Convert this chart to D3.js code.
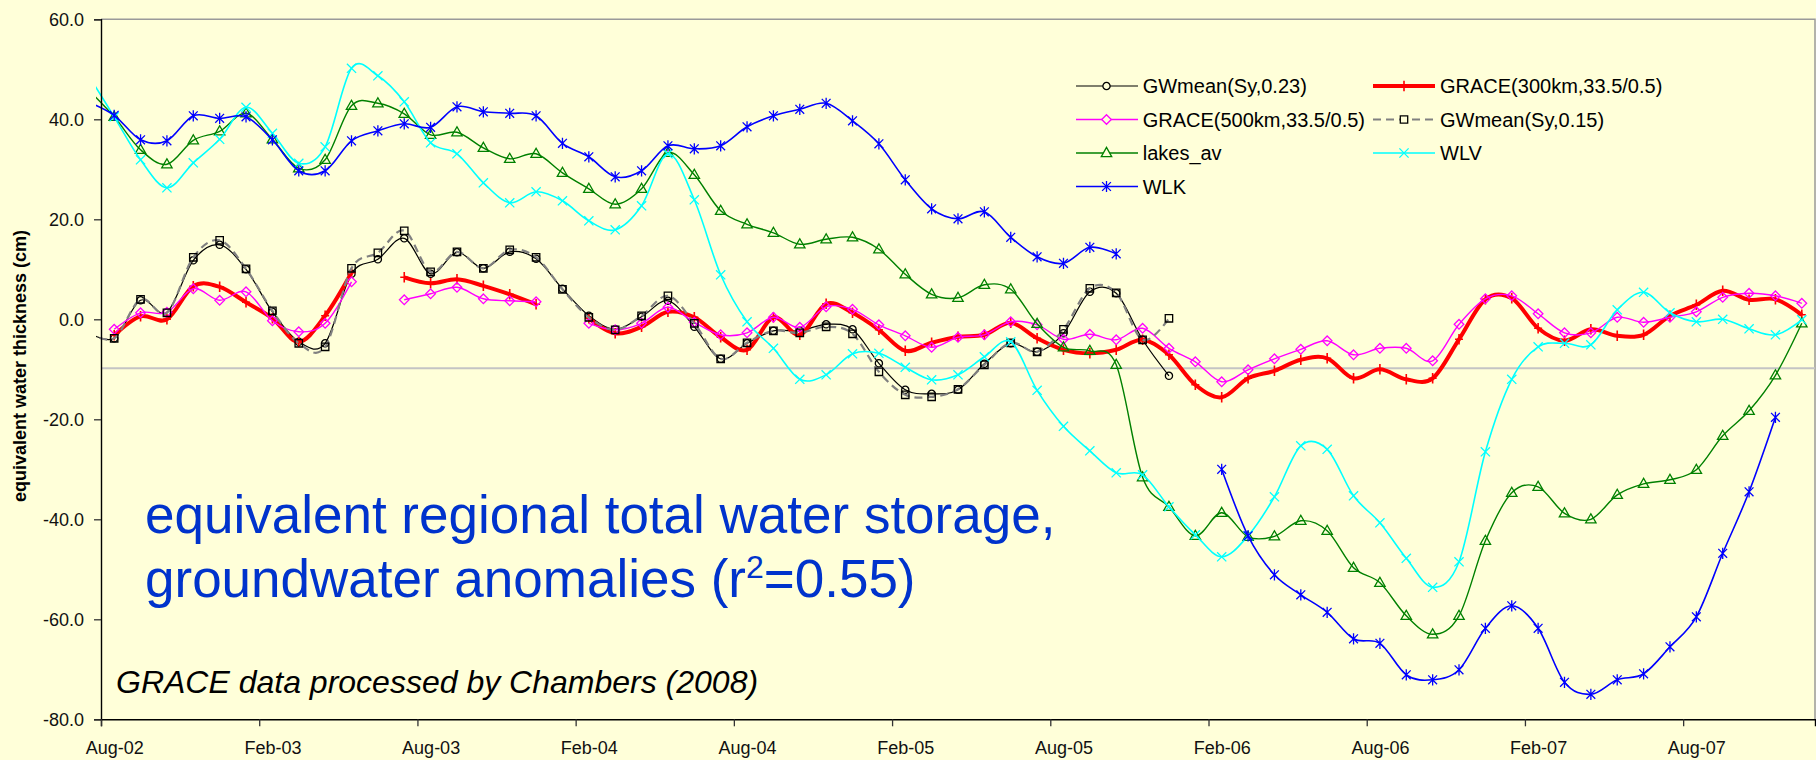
<!DOCTYPE html>
<html><head><meta charset="utf-8">
<script src="https://cdn.jsdelivr.net/npm/d3@7"></script>
<style>html,body{margin:0;padding:0;background:#FFFFD9;} svg{display:block}</style>
</head><body><svg id="c" width="1816" height="760"></svg>
<script>
// ---------- DATA ----------
const months = ["Jul-02","Aug-02","Sep-02","Oct-02","Nov-02","Dec-02",
"Jan-03","Feb-03","Mar-03","Apr-03","May-03","Jun-03","Jul-03","Aug-03","Sep-03","Oct-03","Nov-03","Dec-03",
"Jan-04","Feb-04","Mar-04","Apr-04","May-04","Jun-04","Jul-04","Aug-04","Sep-04","Oct-04","Nov-04","Dec-04",
"Jan-05","Feb-05","Mar-05","Apr-05","May-05","Jun-05","Jul-05","Aug-05","Sep-05","Oct-05","Nov-05","Dec-05",
"Jan-06","Feb-06","Mar-06","Apr-06","May-06","Jun-06","Jul-06","Aug-06","Sep-06","Oct-06","Nov-06","Dec-06",
"Jan-07","Feb-07","Mar-07","Apr-07","May-07","Jun-07","Jul-07","Aug-07","Sep-07","Oct-07","Nov-07","Dec-07"];
const tickLabels = ["Aug-02","Feb-03","Aug-03","Feb-04","Aug-04","Feb-05","Aug-05","Feb-06","Aug-06","Feb-07","Aug-07"];
const yTicks = [60,40,20,0,-20,-40,-60,-80];
const refLine = [-9.8];

const gwmean023 = [-2.5,-3.8,3.8,1.4,11.8,14.9,10.0,1.5,-4.5,-4.8,9.1,12.0,16.2,9.1,13.4,10.2,13.5,12.1,6.1,0.7,-2.0,
 0.5,3.7,-1.5,-7.9,-4.8,-2.3,-2.3,-1.0,-2.0,-8.8,-14.1,-14.9,-14.1,-8.9,-4.8,-6.5,-2.8,5.5,5.2,-4.1,-11.3,
 null,null,null,null,null,null,null,null,null,null,null,null,null,null,null,null,null,null,null,null,null,null,null,null];
const grace300 = [null,-3.2,0.6,0.0,6.6,6.5,3.4,0.2,-4.5,0.7,9.3,null,8.4,7.2,8.0,6.7,5.0,3.0,null,0.2,-2.8,
 -1.5,1.5,0.4,-3.6,-6.1,0.4,-3.1,3.1,1.3,-2.1,-6.3,-4.7,-3.5,-3.1,-0.7,-3.8,-6.1,-6.8,-6.1,-4.1,-7.1,
 -13.1,-15.6,-11.8,-10.3,-8.1,-7.8,-11.8,-10.0,-12.0,-11.8,-4.0,4.0,4.2,-1.8,-4.3,-2.0,-3.3,-3.1,0.7,2.9,5.7,3.9,4.0,0.9];
const grace500 = [null,-2.0,1.3,1.4,6.1,3.8,5.5,-0.3,-2.5,-0.8,7.5,null,3.9,5.1,6.4,4.1,3.7,3.5,null,-0.8,-2.1,
 -0.8,2.4,-0.6,-3.1,-2.7,0.4,-1.6,2.5,2.0,-1.1,-3.3,-5.6,-3.6,-3.1,-0.5,-1.1,-4.0,-3.0,-4.1,-1.8,-5.8,
 -8.5,-12.5,-10.1,-7.9,-6.0,-4.3,-7.1,-5.8,-5.8,-8.3,-1.0,4.1,4.7,1.1,-2.7,-2.7,0.4,-0.6,0.4,1.5,4.4,5.2,4.7,3.2];
const gwmean015 = [-2.5,-3.8,4.0,1.3,12.4,15.8,10.1,1.7,-4.8,-5.5,10.2,13.3,17.7,9.5,13.5,10.2,13.9,12.4,6.0,0.4,-2.1,
 0.7,4.7,-0.8,-7.9,-4.7,-2.3,-2.7,-1.5,-2.9,-10.5,-15.1,-15.5,-14.0,-9.1,-4.7,-6.5,-2.0,6.2,5.3,-4.1,0.2,
 null,null,null,null,null,null,null,null,null,null,null,null,null,null,null,null,null,null,null,null,null,null,null,null];
const lakesAv = [46.0,40.5,33.9,31.0,35.8,37.6,41.2,36.0,30.2,31.9,42.7,43.2,41.1,36.9,37.4,34.3,32.1,33.1,29.3,26.1,23.0,
 26.1,33.3,28.9,21.7,19.0,17.3,15.0,16.0,16.4,14.0,9.0,5.0,4.3,6.9,6.0,-0.9,-5.6,-6.3,-9.1,-31.6,-37.5,
 -43.3,-38.7,-43.5,-43.4,-40.3,-42.3,-49.7,-52.7,-59.3,-63.0,-59.3,-44.3,-34.7,-33.5,-38.8,-40.0,-35.1,-32.9,-32.1,-30.1,-23.3,-18.3,-11.2,-0.8];
const wlv = [49.0,40.5,31.9,26.3,31.3,36.0,42.4,37.2,31.2,34.5,50.2,48.7,43.5,35.3,33.1,27.3,23.3,25.5,23.7,19.7,17.9,
 22.7,33.1,23.9,8.9,-0.5,-5.8,-12.0,-11.1,-6.9,-6.8,-9.6,-12.1,-11.1,-7.5,-4.5,-14.2,-21.4,-26.3,-30.7,-31.1,-37.5,
 -43.1,-47.5,-43.3,-35.5,-25.3,-26.0,-35.3,-40.7,-47.8,-53.6,-48.5,-26.5,-12.0,-5.5,-4.8,-5.1,1.9,5.4,1.3,-0.5,0.0,-1.9,-3.1,-0.1];
const wlk = [43.5,40.8,35.9,35.7,40.7,40.2,40.5,35.9,29.7,29.7,35.7,37.7,39.1,38.4,42.5,41.5,41.2,40.7,35.2,32.5,28.5,
 29.7,34.7,34.1,34.7,38.5,40.7,42.0,43.2,39.7,35.1,27.9,22.1,20.1,21.5,16.4,12.5,11.2,14.4,13.1,null,null,
 null,-30.0,-43.3,-51.1,-55.1,-58.6,-63.9,-64.8,-71.1,-72.1,-70.1,-61.8,-57.3,-61.8,-72.6,-75.0,-72.1,-70.9,-65.5,-59.5,-46.8,-34.5,-19.6,null];

const seriesNames = ["GWmean(Sy,0.23)","GRACE(300km,33.5/0.5)","GRACE(500km,33.5/0.5)","GWmean(Sy,0.15)","lakes_av","WLV","WLK"];
const seriesValues = [gwmean023, grace300, grace500, gwmean015, lakesAv, wlv, wlk];

// ---------- STYLE ----------
const styles = [
  {color:"#000000", width:1.2, dash:null, marker:"circle", mcolor:"#000000"},
  {color:"#FF0000", width:4, dash:null, marker:"plus", mcolor:"#FF0000"},
  {color:"#FF00FF", width:1.4, dash:null, marker:"diamond", mcolor:"#FF00FF"},
  {color:"#808080", width:2.2, dash:"8,5", marker:"square", mcolor:"#000000"},
  {color:"#008000", width:1.4, dash:null, marker:"triangle", mcolor:"#008000"},
  {color:"#00FFFF", width:1.6, dash:null, marker:"x", mcolor:"#00FFFF"},
  {color:"#0000FF", width:1.6, dash:null, marker:"star", mcolor:"#0000FF"}
];
const markerPath = {
  circle: "M3.6,0A3.6,3.6 0 1,1 -3.6,0A3.6,3.6 0 1,1 3.6,0Z",
  square: "M-3.7,-3.7H3.7V3.7H-3.7Z",
  diamond: "M0,-4.8L4.8,0L0,4.8L-4.8,0Z",
  triangle: "M0,-5.6L5.2,3.6H-5.2Z",
  x: "M-4.6,-4.6L4.6,4.6M-4.6,4.6L4.6,-4.6",
  star: "M-4.4,-4.4L4.4,4.4M-4.4,4.4L4.4,-4.4M0,-5.6V5.6",
  plus: "M-4,0H4M0,-5.2V5.2"
};

const FONT = "'Liberation Sans', Arial, Helvetica, sans-serif";
const svg = d3.select("#c");
svg.append("rect").attr("width",1816).attr("height",760).attr("fill","#FFFFD9");

const X0 = 101, X1 = 1815, YT = 19.3, YB = 719.3;
// category boundary scale: Aug-02 (index 1) starts at X0, Dec-07 (index 65) ends at X1
const x = d3.scaleLinear().domain([1, 66]).range([X0, X1]);
const y = d3.scaleLinear().domain([-80, 60]).range([YB, YT]);
const cx = i => x(i + 0.5);

// frame (top and right)
svg.append("path").attr("d", `M${X0},${YT}H${X1}V${YB}`).attr("fill","none")
  .attr("stroke","#9a9a9a").attr("stroke-width",1.5);

// reference line
svg.selectAll(".ref").data(refLine).enter().append("line")
  .attr("x1", X0).attr("x2", X1).attr("y1", d=>y(d)).attr("y2", d=>y(d))
  .attr("stroke","#C4C4C4").attr("stroke-width",2);

// clip
svg.append("clipPath").attr("id","clip").append("rect")
  .attr("x", 96).attr("y", YT - 5).attr("width", X1 - 96).attr("height", YB - YT + 5);

const plot = svg.append("g").attr("clip-path","url(#clip)");
const line = d3.line().defined(d => d != null).x((d,i)=>cx(i)).y(d=>y(d))
  .curve(d3.curveCardinal.tension(0));

seriesValues.forEach((vals, s) => {
  const st = styles[s];
  const g = plot.append("g");
  g.append("path").attr("d", line(vals)).attr("fill","none")
    .attr("stroke", st.color).attr("stroke-width", st.width)
    .attr("stroke-dasharray", st.dash).attr("stroke-linejoin","round");
  g.selectAll("path.m").data(vals.map((v,i)=>({v,i})).filter(d=>d.v!=null))
    .enter().append("path").attr("class","m")
    .attr("transform", d=>`translate(${cx(d.i)},${y(d.v)})`)
    .attr("d", markerPath[st.marker]).attr("fill","none")
    .attr("stroke", st.mcolor).attr("stroke-width", st.marker==="plus"?1.6:1.3);
});

// y axis
const yAxis = svg.append("g").attr("transform",`translate(${X0},0)`)
  .call(d3.axisLeft(y).tickValues(yTicks).tickSize(7).tickPadding(10).tickFormat(d=>d.toFixed(1)));
yAxis.select(".domain").attr("stroke","#000").attr("stroke-width",1.4);
yAxis.selectAll(".tick line").attr("stroke","#333").attr("stroke-width",1.3);
yAxis.selectAll("text").attr("font-family",FONT).attr("font-size",18).attr("fill","#111");

// x axis ticks (at category boundaries)
const tickIdx = tickLabels.map(l => months.indexOf(l));
const xTicks = svg.append("g").attr("transform",`translate(0,${YB})`)
  .call(d3.axisBottom(x).tickValues(tickIdx).tickSize(7).tickFormat(""));
xTicks.select(".domain").attr("stroke","#000").attr("stroke-width",1.4);
xTicks.selectAll(".tick line").attr("stroke","#333").attr("stroke-width",1.3);
// x labels (centred on categories)
const xLab = svg.append("g").attr("transform",`translate(0,${YB})`)
  .call(d3.axisBottom(x).tickValues(tickIdx.map(i=>i+0.5)).tickSize(0).tickPadding(22)
    .tickFormat(v => months[Math.round(v-0.5)]));
xLab.select(".domain").remove();
xLab.selectAll("text").attr("font-family",FONT).attr("font-size",18).attr("fill","#111");

// y title
svg.append("text").attr("transform","translate(21,366) rotate(-90)")
  .attr("text-anchor","middle").attr("dominant-baseline","middle")
  .attr("font-family",FONT).attr("font-weight","bold").attr("font-size",18).attr("fill","#000")
  .text("equivalent water thickness (cm)");

// legend
const legCols = [{lx:1076, mx:1106.5, tx:1142.7},{lx:1373, mx:1404, tx:1440}];
seriesNames.forEach((name, s) => {
  const st = styles[s];
  const col = legCols[s % 2], row = Math.floor(s / 2);
  const ly = 86 + 33.5 * row;
  const g = svg.append("g");
  g.append("line").attr("x1", col.lx).attr("x2", col.lx + 62).attr("y1", ly).attr("y2", ly)
    .attr("stroke", st.color).attr("stroke-width", st.width).attr("stroke-dasharray", st.dash);
  g.append("path").attr("transform",`translate(${col.mx},${ly})`).attr("d", markerPath[st.marker])
    .attr("fill", "#FFFFD9").attr("stroke", st.mcolor).attr("stroke-width", st.marker==="plus"?1.6:1.3);
  g.append("text").attr("x", col.tx).attr("y", ly).attr("dy","0.35em")
    .attr("font-family",FONT).attr("font-size",20).attr("fill","#000").text(name);
});

// annotations
const ann = svg.append("g").attr("font-family",FONT).attr("fill","#0033CC").attr("font-size",53);
ann.append("text").attr("x",145).attr("y",533).text("equivalent regional total water storage,");
const t2 = ann.append("text").attr("x",145).attr("y",597);
t2.append("tspan").text("groundwater anomalies (r");
t2.append("tspan").attr("font-size",32).attr("dy",-19).text("2");
t2.append("tspan").attr("dy",19).text("=0.55)");

svg.append("text").attr("x",116).attr("y",693).attr("font-family",FONT).attr("font-style","italic")
  .attr("font-size",32).attr("fill","#000").text("GRACE data processed by Chambers (2008)");
</script></body></html>
